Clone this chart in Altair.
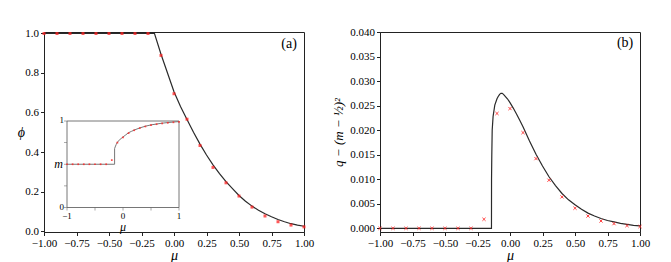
import altair as alt
import pandas as pd

# ---------------- data ----------------
mu_pts = [-1.0, -0.9, -0.8, -0.7, -0.6, -0.5, -0.4, -0.3, -0.2, -0.1,
          0.0, 0.1, 0.2, 0.3, 0.4, 0.5, 0.6, 0.7, 0.8, 0.9, 1.0]
phi_pts = [1.0, 1.0, 1.0, 1.0, 1.0, 1.0, 1.0, 1.0, 1.0, 0.889,
           0.695, 0.566, 0.433, 0.322, 0.244, 0.177, 0.121, 0.076, 0.047, 0.030, 0.021]
q_pts = [0.0, 0.0, 0.0, 0.0, 0.0, 0.0, 0.0, 0.0, 0.00184, 0.0234,
         0.0244, 0.0195, 0.0142, 0.0098, 0.0064, 0.0041, 0.0025, 0.0015, 0.00095, 0.00055, 0.00035]
m_pts = [0.5, 0.5, 0.5, 0.5, 0.5, 0.5, 0.5, 0.5, 0.548, 0.75,
         0.812, 0.86, 0.893, 0.918, 0.937, 0.952, 0.963, 0.972, 0.979, 0.985, 0.99]

mu_phi_curve = [-1.0, -0.15, -0.1, -0.05, 0.0, 0.05, 0.1, 0.15, 0.2, 0.25, 0.3, 0.35, 0.4,
                0.45, 0.5, 0.55, 0.6, 0.65, 0.7, 0.75, 0.8, 0.85, 0.9, 0.95, 1.0]
phi_curve = [1.0, 1.0, 0.895, 0.80, 0.705, 0.63, 0.565, 0.50, 0.44, 0.385, 0.335, 0.29, 0.25,
             0.215, 0.18, 0.151, 0.126, 0.105, 0.087, 0.072, 0.058, 0.047, 0.037, 0.030, 0.024]

mu_q_curve = [-1.0, -0.1425, -0.142, -0.14, -0.137, -0.13, -0.117, -0.10, -0.092, -0.08, -0.07,
              -0.06, -0.05, -0.04, -0.02, 0.0, 0.025, 0.05, 0.075, 0.1, 0.15, 0.2, 0.25, 0.3,
              0.35, 0.4, 0.45, 0.5, 0.55, 0.6, 0.65, 0.7, 0.75, 0.8, 0.85, 0.9, 0.95, 1.0]
q_curve = [0.0, 0.0, 0.010, 0.015, 0.020, 0.0228, 0.0251, 0.0264, 0.0268, 0.0273, 0.0275,
           0.0275, 0.0273, 0.0270, 0.0264, 0.0256, 0.0245, 0.0233, 0.0220, 0.0207, 0.0178, 0.0151,
           0.0127, 0.0105, 0.0087, 0.0071, 0.0058, 0.0048, 0.0039, 0.0031, 0.0025, 0.0020,
           0.0016, 0.0013, 0.0010, 0.0008, 0.0006, 0.00048]

mu_m_curve = [-1.0, -0.15, -0.15, -0.14, -0.12, -0.1, -0.05, 0.0, 0.05, 0.1, 0.15, 0.2, 0.3,
              0.4, 0.5, 0.6, 0.7, 0.8, 0.9, 1.0]
m_curve = [0.5, 0.5, 0.68, 0.70, 0.73, 0.755, 0.79, 0.815, 0.84, 0.865, 0.88, 0.895, 0.92,
           0.94, 0.955, 0.965, 0.975, 0.982, 0.988, 0.993]

x_ticks = [-1.0, -0.75, -0.5, -0.25, 0.0, 0.25, 0.5, 0.75, 1.0]
phi_ticks = [0.0, 0.2, 0.4, 0.6, 0.8, 1.0]
q_ticks = [0.0, 0.005, 0.01, 0.015, 0.02, 0.025, 0.03, 0.035, 0.04]

inset_x_labels = [(-1.0, "−1"), (0.0, "0"), (1.0, "1")]
inset_y_labels = [(0.0, "0"), (1.0, "1")]
inset_x_ticks = [-1.0, -0.5, 0.0, 0.5, 1.0]
inset_y_ticks = [0.0, 0.25, 0.5, 0.75, 1.0]

panel_labels = [("(a)", 0.885, 0.945), ("(b)", 0.885, 0.0378)]

# ---------------- layout constants ----------------
W, H = 260, 200
SERIF = "Liberation Serif"
LINE = "#2a2a2a"
RED = "#ff2020"

xs = alt.Scale(domain=[-1, 1], nice=False, zero=False)
ys_a = alt.Scale(domain=[-0.005, 1.0075], nice=False, zero=False)
ys_b = alt.Scale(domain=[-0.00075, 0.04], nice=False, zero=False)

x_axis = alt.Axis(values=x_ticks, format=".2f", title="μ", titleFontStyle="italic",
                  titleFontSize=14, titlePadding=0)
ya_axis = alt.Axis(values=phi_ticks, format=".1f", title="ϕ", titleFontStyle="italic",
                   titleAngle=0, titleFontSize=14, titleBaseline="middle")
yb_axis = alt.Axis(values=q_ticks, format=".3f", title="q − (m − ½)²", titleFontStyle="italic")


def enc_a():
    return dict(x=alt.X("mu:Q", scale=xs, axis=x_axis), y=alt.Y("v:Q", scale=ys_a, axis=ya_axis))


def enc_b():
    return dict(x=alt.X("mu:Q", scale=xs, axis=x_axis), y=alt.Y("v:Q", scale=ys_b, axis=yb_axis))


# ---------------- panel (a) ----------------
df_a_curve = pd.DataFrame({"mu": mu_phi_curve, "v": phi_curve, "i": range(len(phi_curve))})
df_a_pts = pd.DataFrame({"mu": mu_pts, "v": phi_pts})
df_a_lab = pd.DataFrame([{"t": panel_labels[0][0], "mu": panel_labels[0][1],
                          "v": panel_labels[0][2]}])

line_a = alt.Chart(df_a_curve).mark_line(color=LINE, strokeWidth=1.2).encode(
    order="i:Q", **enc_a())
pts_a = alt.Chart(df_a_pts).mark_point(shape="square", filled=True, size=9, color=RED,
                                       opacity=0.75).encode(**enc_a())
lab_a = alt.Chart(df_a_lab).mark_text(font=SERIF, fontSize=14, color="black").encode(
    text="t:N", **enc_a())
main_a = alt.layer(line_a, pts_a, lab_a)

# inset
ix = alt.Scale(domain=[-1, 1], range=[23, 135], nice=False, zero=False)
iy = alt.Scale(domain=[0, 1], range=[175.5, 89], nice=False, zero=False)


def enc_i(xf="x", yf="y"):
    return dict(x=alt.X(f"{xf}:Q", scale=ix, axis=None), y=alt.Y(f"{yf}:Q", scale=iy, axis=None))


frame = alt.Chart(pd.DataFrame([{"x": -1, "x2": 1, "y": 0, "y2": 1}])).mark_rect(
    fill="white", stroke="#666", strokeWidth=0.9).encode(x2="x2:Q", y2="y2:Q", **enc_i())
df_m_curve = pd.DataFrame({"x": mu_m_curve, "y": m_curve, "i": range(len(m_curve))})
iline = alt.Chart(df_m_curve).mark_line(color="#777", strokeWidth=1).encode(
    order="i:Q", **enc_i())
ipts = alt.Chart(pd.DataFrame({"x": mu_pts, "y": m_pts})).mark_point(
    shape="square", filled=True, size=3, color=RED, opacity=0.8).encode(**enc_i())
ixt = alt.Chart(pd.DataFrame({"x": inset_x_ticks, "y": [0.0] * len(inset_x_ticks)})).mark_tick(
    orient="vertical", size=3, thickness=0.8, color="#666", yOffset=1.5).encode(**enc_i())
iyt = alt.Chart(pd.DataFrame({"y": inset_y_ticks, "x": [-1.0] * len(inset_y_ticks)})).mark_tick(
    orient="horizontal", size=3, thickness=0.8, color="#666", xOffset=-1.5).encode(**enc_i())
ixl = alt.Chart(pd.DataFrame({"x": [a for a, _ in inset_x_labels], "y": [0.0] * 3,
                              "t": [b for _, b in inset_x_labels]})).mark_text(
    font=SERIF, fontSize=9, baseline="top", dy=4, color="black").encode(text="t:N", **enc_i())
iyl = alt.Chart(pd.DataFrame({"y": [a for a, _ in inset_y_labels], "x": [-1.0] * 2,
                              "t": [b for _, b in inset_y_labels]})).mark_text(
    font=SERIF, fontSize=9, align="right", baseline="middle", dx=-3, dy=-1,
    color="black").encode(text="t:N", **enc_i())
it_mu = alt.Chart(pd.DataFrame([{"x": 0.0, "y": 0.0, "t": "μ"}])).mark_text(
    font=SERIF, fontSize=12, fontStyle="italic", baseline="top", dy=14, color="black").encode(
    text="t:N", **enc_i())
it_m = alt.Chart(pd.DataFrame([{"x": -1.0, "y": 0.5, "t": "m"}])).mark_text(
    font=SERIF, fontSize=12, fontStyle="italic", align="right", baseline="middle", dx=-4,
    color="black").encode(text="t:N", **enc_i())

inset = alt.layer(frame, ixt, iyt, iline, ipts, ixl, iyl, it_mu, it_m)

panel_a = alt.layer(main_a, inset).resolve_scale(x="independent", y="independent").properties(
    width=W, height=H)

# ---------------- panel (b) ----------------
df_b_curve = pd.DataFrame({"mu": mu_q_curve, "v": q_curve, "i": range(len(q_curve))})
df_b_pts = pd.DataFrame({"mu": mu_pts, "v": q_pts})
df_b_lab = pd.DataFrame([{"t": panel_labels[1][0], "mu": panel_labels[1][1],
                          "v": panel_labels[1][2]}])

line_b = alt.Chart(df_b_curve).mark_line(color=LINE, strokeWidth=1.2).encode(
    order="i:Q", **enc_b())
pts_b = alt.Chart(df_b_pts).mark_point(shape="M-1,-1L1,1M-1,1L1,-1", filled=False, size=10,
                                       strokeWidth=1, color=RED, opacity=0.85).encode(**enc_b())
lab_b = alt.Chart(df_b_lab).mark_text(font=SERIF, fontSize=14, color="black").encode(
    text="t:N", **enc_b())
panel_b = alt.layer(line_b, pts_b, lab_b).properties(width=W, height=H)

chart = alt.hconcat(panel_a, panel_b, spacing=17).properties(
    padding={"left": 8, "top": 17, "right": 5, "bottom": 0}, background="white"
).configure_view(stroke="#222", strokeWidth=1).configure_axis(
    labelFont=SERIF, labelFontSize=11, labelColor="black", titleFont=SERIF, titleFontSize=13,
    titleFontWeight="normal", titleColor="black", domainColor="#222", tickColor="#222",
    tickSize=3.5, labelPadding=2, grid=False, titlePadding=4, labelOverlap=False,
    labelFlush=False
)

chart.save("out.html", embed_options={"renderer": "svg", "actions": False})
